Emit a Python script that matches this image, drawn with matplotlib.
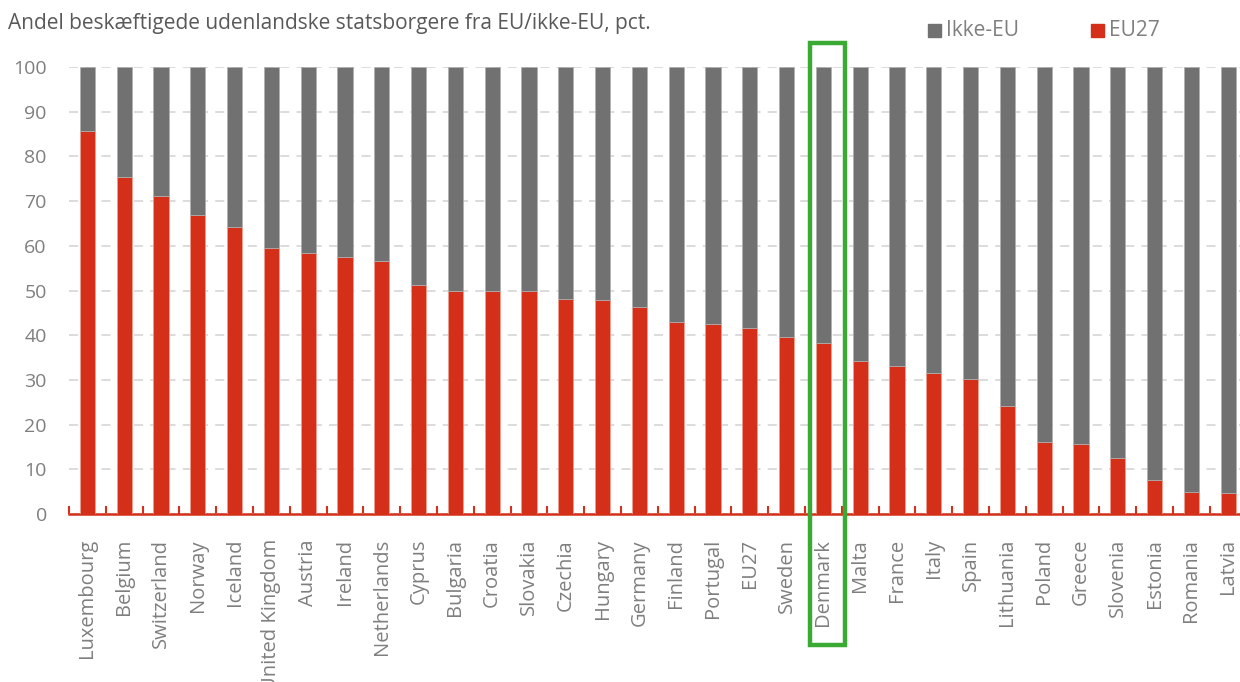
import numpy as np
import matplotlib.pyplot as plt
from matplotlib.patches import Rectangle

# Data
countries = ['Luxembourg', 'Belgium', 'Switzerland', 'Norway', 'Iceland',
             'United Kingdom', 'Austria', 'Ireland', 'Netherlands', 'Cyprus',
             'Bulgaria', 'Croatia', 'Slovakia', 'Czechia', 'Hungary', 'Germany',
             'Finland', 'Portugal', 'EU27', 'Sweden', 'Denmark', 'Malta',
             'France', 'Italy', 'Spain', 'Lithuania', 'Poland', 'Greece',
             'Slovenia', 'Estonia', 'Romania', 'Latvia']
eu27 = [85.6, 75.3, 71.1, 67.0, 64.3, 59.4, 58.5, 57.6, 56.7, 51.2,
        50.0, 50.0, 49.9, 48.0, 47.9, 46.4, 43.0, 42.6, 41.5, 39.6,
        38.3, 34.2, 33.2, 31.6, 30.1, 24.1, 16.2, 15.6, 12.6, 7.7, 4.9, 4.6]
non_eu = [100 - v for v in eu27]
highlight = 'Denmark'

RED = '#d42f19'
GREY = '#717171'
TXT = '#7f7f7f'

plt.rcParams['font.family'] = ['Open Sans', 'DejaVu Sans']

W, H = 1240, 682
fig = plt.figure(figsize=(W / 100, H / 100), dpi=100)
ax = fig.add_axes([69 / W, (H - 514) / H, (1246.6 - 69) / W, (514 - 67) / H])

x = np.arange(len(countries))
ax.bar(x, eu27, width=0.41, color=RED, edgecolor='#f0a090', linewidth=0.5, zorder=3)
ax.bar(x, non_eu, width=0.41, bottom=eu27, color=GREY, edgecolor='#b0b0b0', linewidth=0.5, zorder=3)

ax.set_xlim(-0.5, len(countries) - 0.5)
ax.set_ylim(0, 100)
ax.set_yticks(range(0, 101, 10))
ax.yaxis.grid(True, color='#d9d9d9', linestyle=(0, (5, 4)), linewidth=1.3, zorder=0)
ax.set_axisbelow(True)

for s in ['left', 'right', 'top']:
    ax.spines[s].set_visible(False)
ax.spines['bottom'].set_color(RED)
ax.spines['bottom'].set_linewidth(1.8)

ax.tick_params(axis='y', length=0, labelsize=14, labelcolor=TXT, pad=16)
ax.set_xticks(x)
ax.set_xticklabels(countries, rotation=90, fontsize=14.5, color=TXT)
ax.tick_params(axis='x', length=0, pad=18)
# small red separators between categories
ax.set_xticks(np.arange(-0.5, len(countries)), minor=True)
ax.tick_params(axis='x', which='minor', direction='in', length=6, width=1.5, color=RED)

# green frame around Denmark
i = countries.index(highlight)
ax.add_patch(Rectangle((i - 0.37, -29.3), 0.95, 134.7, fill=False,
                       edgecolor='#3aaa35', linewidth=3.2, clip_on=False, zorder=5))

fig.text(8 / W, 1 - 24 / H, 'Andel beskæftigede udenlandske statsborgere fra EU/ikke-EU, pct.',
         fontsize=15, color='#595959', va='center', ha='left')

# legend drawn by hand: square + label
for sq_x, col, lab in [(928, GREY, 'Ikke-EU'), (1091, RED, 'EU27')]:
    fig.add_artist(Rectangle((sq_x / W, 1 - 37 / H), 13 / W, 13 / H, color=col,
                             transform=fig.transFigure))
    fig.text((sq_x + 18) / W, 1 - 31 / H, lab, fontsize=15, color=TXT, va='center', ha='left')

fig.savefig('out.png', dpi=100)
